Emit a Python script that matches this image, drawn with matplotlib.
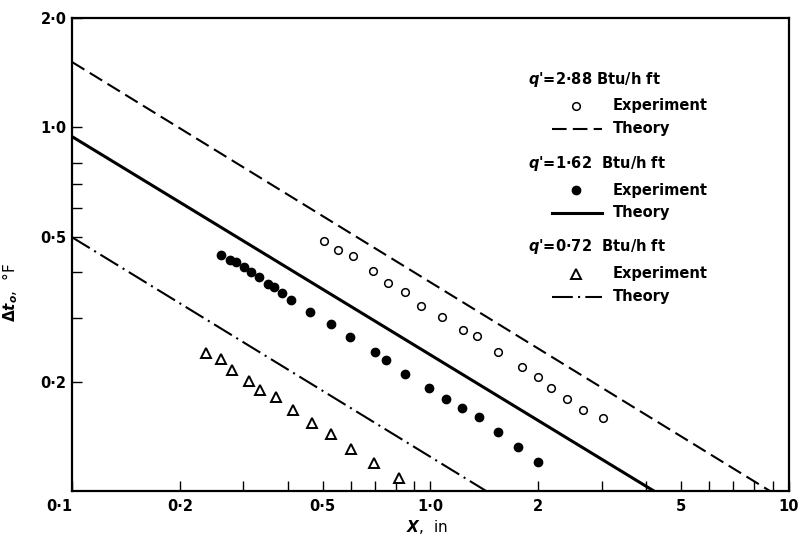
import matplotlib
matplotlib.use('Agg')
import matplotlib.pyplot as plt
from matplotlib.ticker import FixedLocator, NullFormatter

plt.rcParams['font.family'] = ['DejaVu Sans']
plt.rcParams['font.weight'] = 'bold'
plt.rcParams['mathtext.fontset'] = 'custom'
plt.rcParams['mathtext.it'] = 'DejaVu Sans:italic:bold'
plt.rcParams['mathtext.rm'] = 'DejaVu Sans:bold'

# q' = 2.88 Btu/h ft, experiment (open circles)
x_288 = [0.505, 0.552, 0.608, 0.692, 0.760, 0.849, 0.941, 1.077, 1.232,
         1.348, 1.543, 1.800, 1.994, 2.168, 2.403, 2.663, 3.028]
y_288 = [0.486, 0.459, 0.442, 0.402, 0.3745, 0.3535, 0.3235, 0.3014, 0.2775,
         0.2671, 0.2412, 0.2192, 0.2056, 0.1916, 0.1787, 0.1666, 0.1583]

# q' = 1.62 Btu/h ft, experiment (filled circles)
x_162 = [0.2604, 0.2759, 0.2868, 0.3019, 0.3157, 0.3323, 0.3521, 0.3660,
         0.3853, 0.4082, 0.4612, 0.5279, 0.5963, 0.7001, 0.7514, 0.849,
         0.990, 1.105, 1.224, 1.365, 1.543, 1.754, 1.994]
y_162 = [0.4446, 0.4309, 0.4254, 0.412, 0.3993, 0.389, 0.3721, 0.3650,
         0.3513, 0.336, 0.3112, 0.2884, 0.2653, 0.2412, 0.2292, 0.2096,
         0.1916, 0.1787, 0.1688, 0.1593, 0.1457, 0.1324, 0.1203]

# q' = 0.72 Btu/h ft, experiment (triangles)
x_072 = [0.2365, 0.2604, 0.2795, 0.3117, 0.3345, 0.3707, 0.4135, 0.4672,
         0.5279, 0.6002, 0.6956, 0.8167]
y_072 = [0.2396, 0.2306, 0.2150, 0.2004, 0.1892, 0.1810, 0.1666, 0.1543,
         0.1438, 0.1307, 0.1196, 0.1086]

# theory lines (end points)
theory_x = {'2.88': [0.1, 8.85], '1.62': [0.1, 4.20], '0.72': [0.1, 1.43]}
theory_y = {'2.88': [1.514, 0.1], '1.62': [0.944, 0.1], '0.72': [0.499, 0.1]}

x_ticks = [0.1, 0.2, 0.5, 1.0, 2.0, 5.0, 10.0]
x_ticklabels = ['0·1', '0·2', '0·5', '1·0', '2', '5', '10']
x_minor = [0.3, 0.4, 0.6, 0.7, 0.8, 0.9, 3, 4, 6, 7, 8, 9]
y_ticks = [0.2, 0.5, 1.0, 2.0]
y_ticklabels = ['0·2', '0·5', '1·0', '2·0']
y_minor = [0.3, 0.4, 0.6, 0.7, 0.8]

headers = ["$q$'=2·88 Btu/h ft", "$q$'=1·62  Btu/h ft", "$q$'=0·72  Btu/h ft"]

fig = plt.figure(figsize=(7.98, 5.41), dpi=100)
ax = fig.add_axes([0.0902, 0.0924, 0.8985, 0.8743])
ax.set_xscale('log')
ax.set_yscale('log')

ax.plot(theory_x['2.88'], theory_y['2.88'], color='black', lw=1.5, dashes=(7, 3))
ax.plot(theory_x['1.62'], theory_y['1.62'], color='black', lw=2.2)
ax.plot(theory_x['0.72'], theory_y['0.72'], color='black', lw=1.5,
        dashes=(10, 2.5, 1, 2.5))

ax.plot(x_288, y_288, 'o', ms=5.5, mfc='white', mec='black', mew=1.1)
ax.plot(x_162, y_162, 'o', ms=6, mfc='black', mec='black')
ax.plot(x_072, y_072, '^', ms=7.5, mfc='white', mec='black', mew=1.4, clip_on=False)

ax.set_xlim(0.1, 10)
ax.set_ylim(0.1, 2.0)

ax.xaxis.set_major_locator(FixedLocator(x_ticks))
ax.set_xticklabels(x_ticklabels)
ax.xaxis.set_minor_locator(FixedLocator(x_minor))
ax.xaxis.set_minor_formatter(NullFormatter())
ax.yaxis.set_major_locator(FixedLocator(y_ticks))
ax.set_yticklabels(y_ticklabels)
ax.yaxis.set_minor_locator(FixedLocator(y_minor))
ax.yaxis.set_minor_formatter(NullFormatter())
ax.get_xticklabels()[0].set_ha('right')

ax.tick_params(which='both', direction='in', length=7, width=1, labelsize=10.5,
               top=False, right=False)
ax.tick_params(axis='x', pad=6)
ax.tick_params(axis='y', pad=4)
for sp in ax.spines.values():
    sp.set_linewidth(1.6)

ax.set_xlabel('$X$,  in', fontsize=11)
ax.xaxis.set_label_coords(0.495, -0.058)
ax.set_ylabel(r'$\Delta t_o$,  °F', fontsize=11)
ax.yaxis.set_label_coords(-0.072, 0.42)

# hand-placed legend block, as in the original figure
row_y = [0.871, 0.693, 0.516]
symbols = [dict(marker='o', ms=5.5, mfc='white', mec='black', mew=1.1),
           dict(marker='o', ms=6, mfc='black', mec='black'),
           dict(marker='^', ms=7.5, mfc='white', mec='black', mew=1.4)]
line_styles = [dict(lw=1.5, dashes=(7, 3)), dict(lw=2.2),
               dict(lw=1.5, dashes=(10, 2.5, 1, 2.5))]
for hy, head, sym, ls in zip(row_y, headers, symbols, line_styles):
    ax.text(0.636, hy, head, transform=ax.transAxes, fontsize=10.5, va='center')
    ax.plot([0.703], [hy - 0.057], transform=ax.transAxes, color='black',
            linestyle='none', **sym)
    ax.text(0.7545, hy - 0.057, 'Experiment', transform=ax.transAxes,
            fontsize=10.5, va='center')
    ax.plot([0.669, 0.739], [hy - 0.105] * 2, transform=ax.transAxes,
            color='black', **ls)
    ax.text(0.7545, hy - 0.105, 'Theory', transform=ax.transAxes,
            fontsize=10.5, va='center')

fig.savefig('out.png', dpi=100)
